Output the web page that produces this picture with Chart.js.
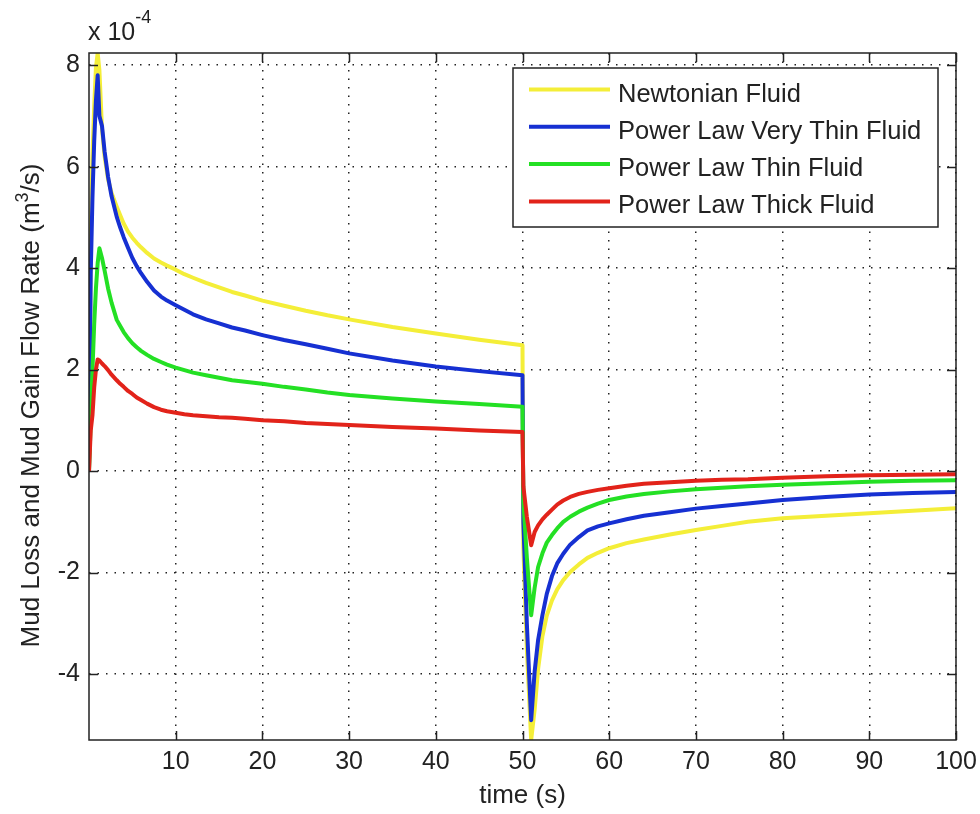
<!DOCTYPE html>
<html>
<head>
<meta charset="utf-8">
<script src="https://cdn.jsdelivr.net/npm/chart.js@4.4.0/dist/chart.umd.min.js"></script>
<style>
  html, body { margin: 0; padding: 0; background: #fff; }
  #wrap { width: 980px; height: 814px; }
</style>
</head>
<body>
<div id="wrap"><canvas id="c" width="980" height="814"></canvas></div>
<script>
// Time samples (s)
const time = [0, 0.2, 0.4, 0.6, 0.8, 1.0, 1.2, 1.5, 1.8, 2.2,
  2.6, 3.2, 3.6, 4, 4.5, 5, 5.5, 6, 6.7, 7.5,
  8.3, 9, 10, 11, 12, 13.5, 15, 16.5, 18, 20,
  22.5, 25, 27.5, 30, 35, 40, 45, 50, 50.1, 50.5,
  51, 51.4, 51.8, 52.3, 52.8, 53.4, 54, 54.7, 55.5, 56.5,
  57.5, 58.7, 60, 62, 64, 67, 70, 73, 76, 80,
  85, 90, 95, 100];

// Flow rates in units of 1e-4 m^3/s
const newtonian = [0, 4.5, 6.2, 7.2, 7.95, 8.24, 7.9, 6.75, 6.2, 5.75,
  5.48, 5.21, 5.04, 4.88, 4.72, 4.6, 4.5, 4.41, 4.3, 4.19,
  4.11, 4.05, 3.97, 3.88, 3.81, 3.71, 3.62, 3.53, 3.46, 3.36,
  3.26, 3.16, 3.07, 2.99, 2.84, 2.71, 2.59, 2.48, -1.5, -3.5,
  -5.3, -4.7, -3.9, -3.25, -2.85, -2.55, -2.33, -2.15, -1.99, -1.84,
  -1.71, -1.61, -1.52, -1.42, -1.35, -1.25, -1.16, -1.08, -1.0, -0.93,
  -0.88, -0.83, -0.78, -0.73];

const veryThin = [0, 3.9, 5.4, 6.5, 7.3, 7.8, 7.0, 6.8, 6.3, 5.8,
  5.42, 5.01, 4.8, 4.61, 4.4, 4.2, 4.04, 3.9, 3.73, 3.56,
  3.44, 3.36, 3.27, 3.18, 3.09, 2.99, 2.91, 2.83, 2.77, 2.68,
  2.585, 2.5, 2.41, 2.32, 2.18, 2.06, 1.97, 1.89, -1.0, -3.0,
  -4.91, -3.95, -3.33, -2.84, -2.42, -2.07, -1.82, -1.63, -1.45, -1.3,
  -1.17, -1.09, -1.03, -0.95, -0.88, -0.81, -0.74, -0.69, -0.64, -0.57,
  -0.51, -0.46, -0.43, -0.41];

const thin = [0, 1.0, 2.0, 2.9, 3.6, 4.1, 4.39, 4.2, 3.95, 3.6,
  3.32, 2.98, 2.86, 2.74, 2.62, 2.52, 2.44, 2.37, 2.29, 2.21,
  2.15, 2.10, 2.04, 1.99, 1.94, 1.89, 1.84, 1.79, 1.76, 1.72,
  1.66, 1.61, 1.55, 1.50, 1.43, 1.37, 1.32, 1.27, -0.6, -1.7,
  -2.84, -2.3, -1.89, -1.62, -1.41, -1.26, -1.13, -1.0, -0.9, -0.8,
  -0.72, -0.64, -0.57, -0.5, -0.45, -0.4, -0.36, -0.33, -0.3, -0.27,
  -0.24, -0.21, -0.19, -0.18];

const thick = [0, 0.8, 1.1, 1.65, 2.0, 2.2, 2.18, 2.12, 2.07, 1.99,
  1.9, 1.79, 1.72, 1.66, 1.58, 1.52, 1.45, 1.40, 1.33, 1.26,
  1.21, 1.18, 1.15, 1.12, 1.10, 1.08, 1.06, 1.05, 1.03, 1.0,
  0.98, 0.95, 0.93, 0.91, 0.87, 0.84, 0.80, 0.77, -0.3, -0.9,
  -1.46, -1.2, -1.07, -0.95, -0.86, -0.76, -0.66, -0.58, -0.51, -0.45,
  -0.41, -0.37, -0.34, -0.29, -0.25, -0.22, -0.19, -0.17, -0.16, -0.13,
  -0.10, -0.08, -0.07, -0.06];

const seriesNames = ['Newtonian Fluid', 'Power Law Very Thin Fluid', 'Power Law Thin Fluid', 'Power Law Thick Fluid'];
const seriesColors = ['#f4ee38', '#1630d2', '#24e024', '#e2231a'];

const xTicks = [10, 20, 30, 40, 50, 60, 70, 80, 90, 100];
const yTicks = [-4, -2, 0, 2, 4, 6, 8];

const FONT = 'Liberation Sans, Arial, Helvetica, sans-serif';
const INK = '#222';

const pairs = vals => vals.map((v, i) => ({ x: time[i], y: v }));

// axis box with inward tick marks on all four sides, the exponent note and the y label
const axesBox = {
  id: 'axesBox',
  afterDatasetsDraw(chart) {
    const { ctx, chartArea: a, scales } = chart;
    const len = 9;
    ctx.save();
    ctx.strokeStyle = INK;
    ctx.lineWidth = 1.5;
    ctx.beginPath();
    xTicks.forEach(v => {
      const px = Math.round(scales.x.getPixelForValue(v)) + 0.5;
      ctx.moveTo(px, a.bottom); ctx.lineTo(px, a.bottom - len);
      ctx.moveTo(px, a.top); ctx.lineTo(px, a.top + len);
    });
    yTicks.forEach(v => {
      const py = Math.round(scales.y.getPixelForValue(v)) + 0.5;
      ctx.moveTo(a.left, py); ctx.lineTo(a.left + len, py);
      ctx.moveTo(a.right, py); ctx.lineTo(a.right - len, py);
    });
    ctx.stroke();
    ctx.strokeRect(a.left, a.top, a.right - a.left, a.bottom - a.top);

    ctx.fillStyle = INK;
    ctx.textBaseline = 'alphabetic';
    ctx.textAlign = 'left';
    ctx.font = '25px ' + FONT;
    ctx.fillText('x 10', a.left - 1, a.top - 13);
    const w = ctx.measureText('x 10').width;
    ctx.font = '18px ' + FONT;
    ctx.fillText('-4', a.left - 1 + w, a.top - 30);

    // rotated y-axis label with a raised exponent
    const partA = 'Mud Loss and Mud Gain Flow Rate (m', partB = '3', partC = '/s)';
    const big = '26px ' + FONT, small = '18px ' + FONT;
    ctx.font = big;
    const wA = ctx.measureText(partA).width, wC = ctx.measureText(partC).width;
    ctx.font = small;
    const wB = ctx.measureText(partB).width;
    const total = wA + wB + wC;
    ctx.translate(39, (a.top + a.bottom) / 2 + 9);
    ctx.rotate(-Math.PI / 2);
    let x0 = -total / 2;
    ctx.font = big; ctx.fillText(partA, x0, 0); x0 += wA;
    ctx.font = small; ctx.fillText(partB, x0, -11); x0 += wB;
    ctx.font = big; ctx.fillText(partC, x0, 0);
    ctx.restore();
  }
};

// legend panel inside the upper right of the plot
const boxLegend = {
  id: 'boxLegend',
  afterDraw(chart) {
    const { ctx, chartArea: a } = chart;
    const bw = 425, bh = 159;
    const bx = a.right - 18 - bw, by = a.top + 15;
    ctx.save();
    ctx.fillStyle = '#fff';
    ctx.fillRect(bx, by, bw, bh);
    ctx.strokeStyle = INK;
    ctx.lineWidth = 1.5;
    ctx.strokeRect(bx, by, bw, bh);
    ctx.font = '25.5px ' + FONT;
    ctx.textAlign = 'left';
    ctx.textBaseline = 'alphabetic';
    chart.data.datasets.forEach((ds, i) => {
      const base = by + 33.5 + i * 37.3;
      ctx.strokeStyle = ds.borderColor;
      ctx.lineWidth = 4;
      ctx.beginPath();
      ctx.moveTo(bx + 16, base - 12);
      ctx.lineTo(bx + 97, base - 12);
      ctx.stroke();
      ctx.fillStyle = INK;
      ctx.fillText(ds.label, bx + 105, base);
    });
    ctx.restore();
  }
};

const valueSets = [newtonian, veryThin, thin, thick];

new Chart(document.getElementById('c'), {
  type: 'line',
  data: {
    datasets: valueSets.map((vals, i) => ({
      label: seriesNames[i],
      data: pairs(vals),
      borderColor: seriesColors[i],
      backgroundColor: seriesColors[i],
      borderWidth: 4,
      borderJoinStyle: 'round',
      pointRadius: 0,
      tension: 0,
      clip: 0,
      order: valueSets.length - i
    }))
  },
  options: {
    responsive: false,
    animation: false,
    devicePixelRatio: 1,
    layout: { padding: { left: 0, right: 24, top: 53, bottom: 0 } },
    plugins: { legend: { display: false }, tooltip: { enabled: false } },
    scales: {
      x: {
        type: 'linear',
        min: 0, max: 100,
        afterBuildTicks: s => { s.ticks = xTicks.map(v => ({ value: v })); },
        afterFit: s => { s.height = 74; s.paddingLeft = 0; s.paddingRight = 0; },
        grid: { color: INK, lineWidth: 1.5, drawTicks: false },
        border: { display: false, dash: [1.5, 7] },
        ticks: { padding: 7, color: INK, font: { family: FONT, size: 25 }, maxRotation: 0, autoSkip: false },
        title: { display: true, text: 'time (s)', color: INK, font: { family: FONT, size: 26 }, padding: { top: 0, bottom: 3 } }
      },
      y: {
        type: 'linear',
        min: -5.3, max: 8.24,
        afterBuildTicks: s => { s.ticks = yTicks.map(v => ({ value: v })); },
        afterFit: s => { s.width = 89; s.paddingTop = 0; s.paddingBottom = 0; },
        grid: { color: INK, lineWidth: 1.5, drawTicks: false },
        border: { display: false, dash: [1.5, 7] },
        ticks: { padding: 9, color: INK, font: { family: FONT, size: 25 }, autoSkip: false }
      }
    }
  },
  plugins: [axesBox, boxLegend]
});
</script>
</body>
</html>
